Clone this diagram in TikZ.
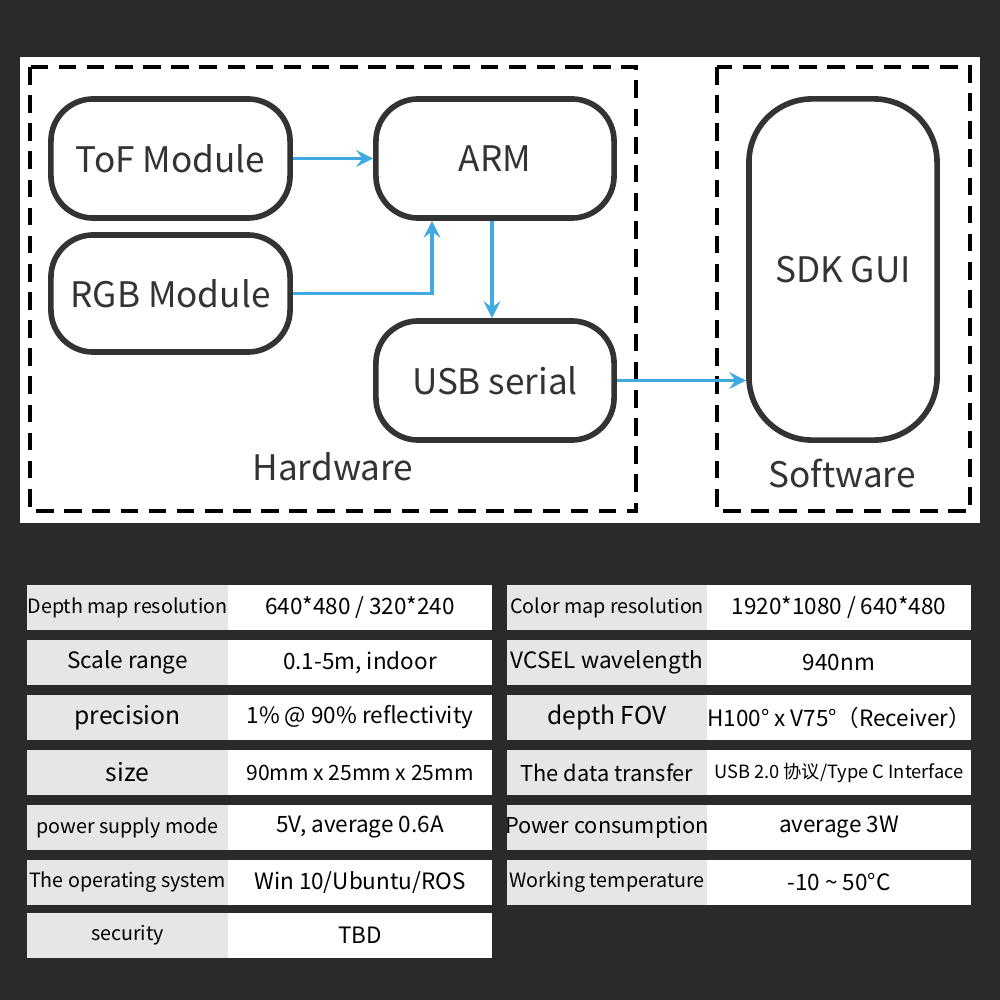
\documentclass[tikz,border=0pt]{standalone}
\usepackage{fontspec}
\setmainfont{Noto Sans CJK SC}
\definecolor{bgdark}{HTML}{2A2A2C}
\definecolor{cellgrey}{HTML}{E6E6E6}
\definecolor{arrowblue}{HTML}{3FA9E0}
\definecolor{txt}{HTML}{333333}
\tikzset{
  blk/.style={draw=txt,line width=1.6pt,rounded corners=12pt,text=txt,font=\fontsize{10}{12}\selectfont},
  grp/.style={draw=black,line width=1.4pt,dash pattern=on 5pt off 3pt},
  flow/.style={->,>=stealth,draw=arrowblue,line width=1.1pt},
  lab/.style={fill=cellgrey,text=black},
  val/.style={fill=white,text=black}
}
\newcommand{\cellrow}[6]{% x0 x1 x2 y label value
  \fill[cellgrey] (#1,#4) rectangle (#2,#4+45);
  \fill[white] (#2,#4) rectangle (#3,#4+45);
  \node[text=black] at ({(#1+#2)/2},#4+22.5) {#5};
  \node[text=black] at ({(#2+#3)/2},#4+22.5) {#6};
}
\begin{document}
\begin{tikzpicture}[x=0.01cm,y=-0.01cm]
  \fill[bgdark] (0,0) rectangle (1000,1000);
  \useasboundingbox (0,0) rectangle (1000,1000);
  \fill[white] (20,57) rectangle (980,523);
  % groups
  \draw[grp] (30,67) rectangle (636,511);
  \draw[grp] (717,67) rectangle (970,511);
  \node[text=txt,font=\fontsize{10}{12}\selectfont] (hw) at (333,467) {Hardware};
  \node[text=txt,font=\fontsize{10}{12}\selectfont] (sw) at (842,473) {Software};
  % blocks
  \node[blk,minimum width=2.39cm,minimum height=1.19cm] (tof) at (170.5,158.5) {ToF Module};
  \node[blk,minimum width=2.39cm,minimum height=1.17cm] (rgb) at (170.5,293.5) {RGB Module};
  \node[blk,minimum width=2.38cm,minimum height=1.19cm] (arm) at (495,158.5) {ARM};
  \node[blk,minimum width=2.38cm,minimum height=1.19cm] (usb) at (495,380.5) {USB serial};
  \node[blk,minimum width=1.88cm,minimum height=3.41cm,rounded corners=18pt] (sdk) at (843,269.5) {SDK GUI};
  % connectors
  \draw[flow] (tof.east) -- (arm.west);
  \draw[flow] (rgb.east) -| ([xshift=-63\pgflinewidth*0+(-0.63cm)]arm.south);
  \draw[flow] ([xshift=-0.03cm]arm.south) -- ([xshift=-0.03cm]usb.north);
  \draw[flow] (usb.east) -- (sdk.west |- usb.east);
  % table
  \begin{scope}[font=\fontsize{5.6}{7}\selectfont]
    \cellrow{27}{228}{492}{585}{Depth map resolution}{\fontsize{6.4}{8}\selectfont 640*480 / 320*240}
    \cellrow{27}{228}{492}{640}{\fontsize{6.4}{8}\selectfont Scale range}{\fontsize{6.4}{8}\selectfont 0.1-5m, indoor}
    \cellrow{27}{228}{492}{695}{\fontsize{7}{8}\selectfont precision}{\fontsize{6.4}{8}\selectfont 1\% @ 90\% reflectivity}
    \cellrow{27}{228}{492}{750}{\fontsize{7}{8}\selectfont size}{\fontsize{6}{8}\selectfont 90mm x 25mm x 25mm}
    \cellrow{27}{228}{492}{805}{power supply mode}{\fontsize{6.4}{8}\selectfont 5V, average 0.6A}
    \cellrow{27}{228}{492}{860}{The operating system}{\fontsize{6.4}{8}\selectfont Win 10/Ubuntu/ROS}
    \cellrow{27}{228}{492}{913}{security}{\fontsize{6.4}{8}\selectfont TBD}
    \cellrow{507}{707}{971}{585}{Color map resolution}{\fontsize{6.4}{8}\selectfont 1920*1080 / 640*480}
    \cellrow{507}{707}{971}{640}{\fontsize{6.4}{8}\selectfont VCSEL wavelength}{\fontsize{6.4}{8}\selectfont 940nm}
    \cellrow{507}{707}{971}{695}{\fontsize{7}{8}\selectfont depth FOV}{\fontsize{6.4}{8}\selectfont H100° x V75°（Receiver）}
    \cellrow{507}{707}{971}{750}{\fontsize{6.2}{8}\selectfont The data transfer}{\fontsize{5.2}{7}\selectfont USB 2.0 协议/Type C Interface}
    \cellrow{507}{707}{971}{805}{\fontsize{6.2}{8}\selectfont Power consumption}{\fontsize{6.4}{8}\selectfont average 3W}
    \cellrow{507}{707}{971}{860}{Working temperature}{\fontsize{6.4}{8}\selectfont -10 \textasciitilde{} 50°C}
  \end{scope}
\end{tikzpicture}
\end{document}
